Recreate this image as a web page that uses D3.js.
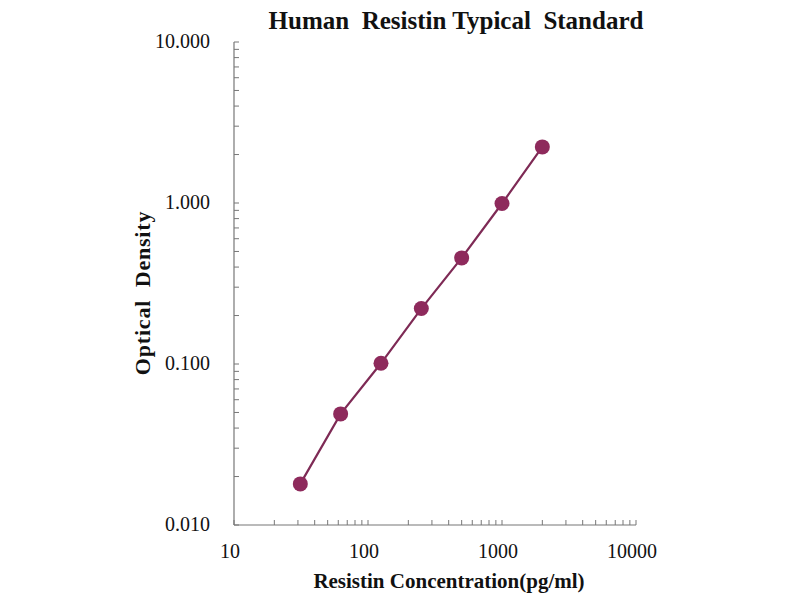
<!DOCTYPE html>
<html>
<head>
<meta charset="utf-8">
<script src="https://cdn.jsdelivr.net/npm/d3@7"></script>
<style>
  body { margin: 0; background: #fff; }
  svg text { font-family: "Liberation Serif", "Times New Roman", serif; fill: #111; }
</style>
</head>
<body>
<script>
/* Data */
var concentrations = [31.25, 62.5, 125, 250, 500, 1000, 2000];
var opticalDensity = [0.018, 0.049, 0.101, 0.221, 0.456, 0.993, 2.23];
var xTicks = [10, 100, 1000, 10000];
var yTicks = [0.01, 0.1, 1, 10];

var width = 800, height = 600;

var svg = d3.select("body")
    .append("svg")
    .attr("width", width)
    .attr("height", height);

var x = d3.scaleLog()
    .domain([10, 10000])
    .range([234, 636]);

var y = d3.scaleLog()
    .domain([0.01, 10])
    .range([525, 42]);

// minor ticks 2..9 of every decade
function minors(lo, hi) {
    var out = [];
    for (var p = lo; p < hi; p *= 10) {
        for (var k = 2; k <= 9; k++) out.push(p * k);
    }
    return out;
}

/* axes */
var axisCol = "#777";

svg.append("line")
    .attr("x1", x(10)).attr("x2", x(10000))
    .attr("y1", y(0.01)).attr("y2", y(0.01))
    .attr("stroke", axisCol).attr("stroke-width", 1.2);

svg.append("line")
    .attr("x1", x(10)).attr("x2", x(10))
    .attr("y1", y(0.01)).attr("y2", y(10))
    .attr("stroke", axisCol).attr("stroke-width", 1.2);

svg.selectAll(".xminor")
    .data(minors(10, 10000).concat(xTicks))
    .enter()
    .append("line")
    .attr("x1", function(d) { return x(d); })
    .attr("x2", function(d) { return x(d); })
    .attr("y1", y(0.01))
    .attr("y2", y(0.01) - 5)
    .attr("stroke", axisCol);

svg.selectAll(".yminor")
    .data(minors(0.01, 10).concat(yTicks))
    .enter()
    .append("line")
    .attr("y1", function(d) { return y(d); })
    .attr("y2", function(d) { return y(d); })
    .attr("x1", x(10))
    .attr("x2", x(10) + 5)
    .attr("stroke", axisCol);

svg.selectAll(".xlab")
    .data(xTicks)
    .enter()
    .append("text")
    .attr("x", function(d) { return x(d) - 4; })
    .attr("y", 558)
    .attr("text-anchor", "middle")
    .attr("font-size", 20)
    .text(function(d) { return d; });

svg.selectAll(".ylab")
    .data(yTicks)
    .enter()
    .append("text")
    .attr("x", 210)
    .attr("y", function(d) { return y(d) + 6; })
    .attr("text-anchor", "end")
    .attr("font-size", 20)
    .text(function(d) { return d3.format(".3f")(d); });

/* titles */
svg.append("text")
    .attr("x", 456)
    .attr("y", 29)
    .attr("text-anchor", "middle")
    .attr("font-size", 25)
    .attr("font-weight", "bold")
    .style("white-space", "pre")
    .text("Human  Resistin Typical  Standard");

svg.append("text")
    .attr("x", 449)
    .attr("y", 588)
    .attr("text-anchor", "middle")
    .attr("font-size", 21)
    .attr("font-weight", "bold")
    .text("Resistin Concentration(pg/ml)");

svg.append("text")
    .attr("transform", "translate(150,293) rotate(-90)")
    .attr("text-anchor", "middle")
    .attr("font-size", 22)
    .attr("font-weight", "bold")
    .attr("letter-spacing", 0.8)
    .style("white-space", "pre")
    .text("Optical  Density");

/* curve */
var pts = concentrations.map(function(c, i) { return [c, opticalDensity[i]]; });

svg.append("path")
    .datum(pts)
    .attr("fill", "none")
    .attr("stroke", "#7e2a55")
    .attr("stroke-width", 2.2)
    .attr("d", d3.line()
        .x(function(d) { return x(d[0]); })
        .y(function(d) { return y(d[1]); }));

svg.selectAll(".dot")
    .data(pts)
    .enter()
    .append("circle")
    .attr("cx", function(d) { return x(d[0]); })
    .attr("cy", function(d) { return y(d[1]); })
    .attr("r", 7.5)
    .attr("fill", "#8e2a5c");
</script>
</body>
</html>
